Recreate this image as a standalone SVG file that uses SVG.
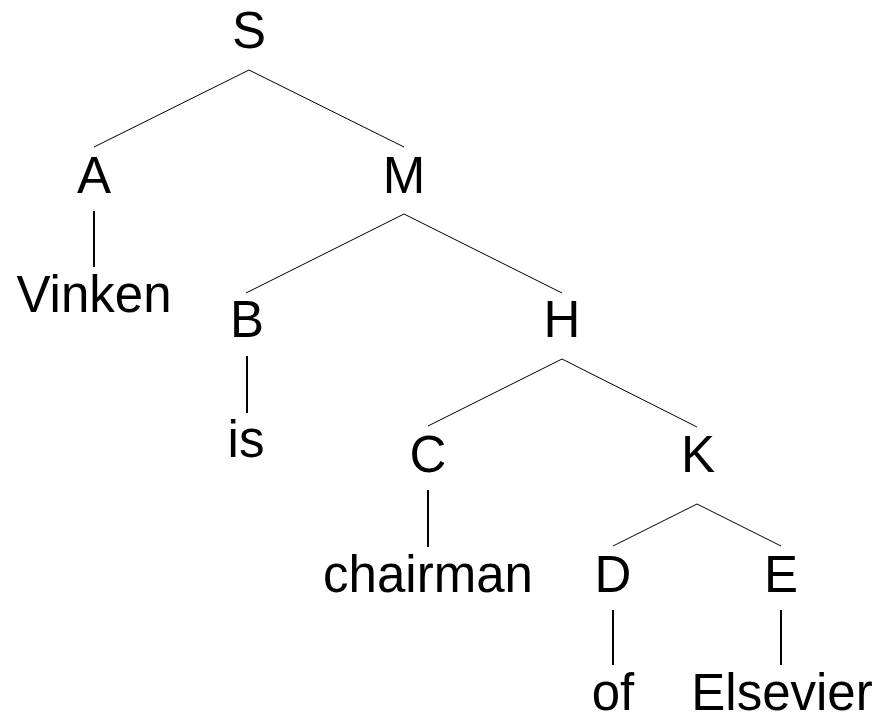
<svg xmlns="http://www.w3.org/2000/svg" width="880" height="718" viewBox="0 0 880 718">
  <style>
    text { font-family: "Liberation Sans", Arial, sans-serif; font-size: 51px; fill: #000; text-anchor: middle; }
    .branch { stroke: #000; stroke-width: 1; fill: none; }
    .stem { stroke: #000; stroke-width: 2; fill: none; }
  </style>
  <rect width="880" height="718" fill="#fff"/>

  <!-- tree edges -->
  <g id="connectors">
    <polyline class="branch" points="94,147 249,70 404,147"/>
    <polyline class="branch" points="246,293 404,214 562,293"/>
    <polyline class="branch" points="428,426 562,359 697,427"/>
    <polyline class="branch" points="613,546 697,504 781,546"/>
    <line class="stem" x1="94" y1="211" x2="94" y2="267"/>
    <line class="stem" x1="247" y1="356" x2="247" y2="413"/>
    <line class="stem" x1="428" y1="490" x2="428" y2="547"/>
    <line class="stem" x1="613" y1="610" x2="613" y2="665"/>
    <line class="stem" x1="781" y1="610" x2="781" y2="665"/>
  </g>

  <!-- nodes -->
  <g id="node-S"><text x="249" y="48">S</text></g>
  <g id="node-A"><text x="94" y="193">A</text></g>
  <g id="node-M"><text x="404" y="193">M</text></g>
  <g id="leaf-Vinken"><text x="94" y="312">Vinken</text></g>
  <g id="node-B"><text x="247" y="337">B</text></g>
  <g id="node-H"><text x="562" y="337">H</text></g>
  <g id="leaf-is"><text x="246" y="457">is</text></g>
  <g id="node-C"><text x="428" y="472">C</text></g>
  <g id="node-K"><text x="698" y="472">K</text></g>
  <g id="leaf-chairman"><text x="428" y="592">chairman</text></g>
  <g id="node-D"><text x="613" y="592">D</text></g>
  <g id="node-E"><text x="781" y="592">E</text></g>
  <g id="leaf-of"><text x="613" y="710">of</text></g>
  <g id="leaf-Elsevier"><text x="782" y="710">Elsevier</text></g>
</svg>
